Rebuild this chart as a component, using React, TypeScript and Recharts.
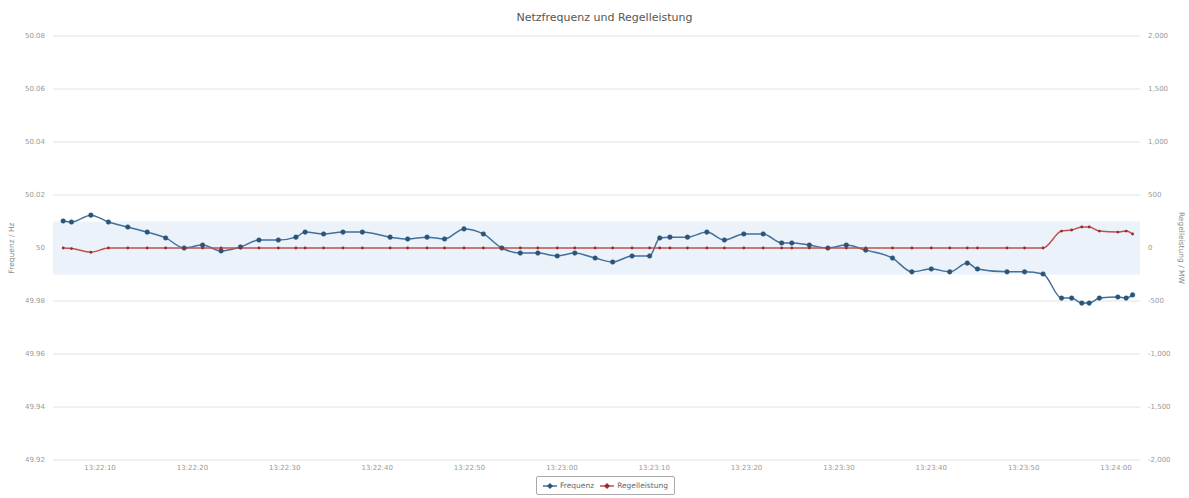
import React from 'react'
import {
  LineChart,
  Line,
  XAxis,
  YAxis,
  CartesianGrid,
  ReferenceArea,
  Legend,
} from 'recharts'

// seconds after 13:22:00
const times = [
  6.0, 6.9, 9.0, 10.9, 13.0, 15.1, 17.1, 19.1, 21.1, 23.1,
  25.2, 27.2, 29.3, 31.2, 32.2, 34.2, 36.3, 38.4, 41.4, 43.3,
  45.4, 47.3, 49.4, 51.5, 53.5, 55.5, 57.4, 59.5, 61.4, 63.6,
  65.5, 67.6, 69.5, 70.6, 71.7, 73.6, 75.7, 77.6, 79.7, 81.8,
  83.8, 84.9, 86.8, 88.8, 90.8, 92.9, 95.8, 97.9, 100.0, 102.0,
  103.9, 105.0, 108.2, 110.1, 112.1, 114.1, 115.2, 116.3, 117.1, 118.2,
  120.2, 121.1, 121.8,
]

const frequenz = [
  50.0102, 50.0098, 50.0124, 50.0098, 50.0079, 50.006, 50.0038, 50.0, 50.0011, 49.9989,
  50.0004, 50.003, 50.003, 50.0041, 50.006, 50.0053, 50.006, 50.006, 50.0041, 50.0034,
  50.0041, 50.0034, 50.0072, 50.0053, 50.0, 49.9981, 49.9981, 49.997, 49.9981, 49.9962,
  49.9947, 49.997, 49.997, 50.0038, 50.0041, 50.0041, 50.006, 50.003, 50.0053, 50.0053,
  50.0019, 50.0019, 50.0011, 50.0, 50.0011, 49.9992, 49.9962, 49.991, 49.9921, 49.991,
  49.9943, 49.9921, 49.991, 49.991, 49.9902, 49.9811, 49.9811, 49.9792, 49.9792, 49.9811,
  49.9815, 49.9811, 49.9823,
]

const regelleistung = [
  0, -5, -40, 0, 0, 0, 0, 0, 0, 0,
  0, 0, 0, 0, 0, 0, 0, 0, 0, 0,
  0, 0, 0, 0, 0, 0, 0, 0, 0, 0,
  0, 0, 0, 0, 0, 0, 0, 0, 0, 0,
  0, 0, 0, 0, 0, 0, 0, 0, 0, 0,
  0, 0, 0, 0, 0, 160, 170, 198, 198, 160,
  150, 160, 132,
]

const xTicks = [10, 20, 30, 40, 50, 60, 70, 80, 90, 100, 110, 120]
const xTickLabels = [
  '13:22:10', '13:22:20', '13:22:30', '13:22:40', '13:22:50', '13:23:00',
  '13:23:10', '13:23:20', '13:23:30', '13:23:40', '13:23:50', '13:24:00',
]

const freqTicks = [49.92, 49.94, 49.96, 49.98, 50, 50.02, 50.04, 50.06, 50.08]
const freqTickLabels = ['49.92', '49.94', '49.96', '49.98', '50', '50.02', '50.04', '50.06', '50.08']

const powerTicks = [-2000, -1500, -1000, -500, 0, 500, 1000, 1500, 2000]
const powerTickLabels = ['-2,000', '-1,500', '-1,000', '-500', '0', '500', '1,000', '1,500', '2,000']

const data = times.map((t, i) => ({ t, f: frequenz[i], r: regelleistung[i] }))

const BLUE = '#42709a'
const BLUE_DOT = '#2a5578'
const RED = '#c0504d'
const RED_DOT = '#9c2b28'
const tickStyle = { fontSize: 7, fill: '#999' }

function axisTitle(text: string, side: 'left' | 'right') {
  return (props: any) => {
    const vb = props.viewBox || {}
    const x = side === 'left' ? 11 : 1181
    const y = vb.y + vb.height / 2
    return (
      <text
        x={x}
        y={y}
        transform={`rotate(${side === 'left' ? -90 : 90} ${x} ${y})`}
        textAnchor="middle"
        dominantBaseline="central"
        fontSize={7.5}
        fill="#888"
      >
        {text}
      </text>
    )
  }
}

function LegendBox() {
  const item = (label: string, color: string, dot: string) => (
    <span style={{ display: 'inline-flex', alignItems: 'center', gap: 3 }}>
      <svg width={14} height={8}>
        <line x1={0} y1={4} x2={14} y2={4} stroke={color} strokeWidth={1.5} />
        <path d="M7 1 L10 4 L7 7 L4 4 Z" fill={dot} />
      </svg>
      {label}
    </span>
  )
  return (
    <div style={{ display: 'flex', justifyContent: 'center', paddingLeft: 22 }}>
      <div
        style={{
          border: '1px solid #aaa',
          borderRadius: 2,
          padding: '3px 6px',
          fontSize: 7.5,
          color: '#666',
          display: 'flex',
          gap: 6,
          lineHeight: '11px',
        }}
      >
        {item('Frequenz', BLUE, BLUE_DOT)}
        {item('Regelleistung', RED, RED_DOT)}
      </div>
    </div>
  )
}

export default function App() {
  return (
    <div
      style={{
        position: 'absolute',
        left: 0,
        top: 0,
        width: 1189,
        height: 498,
        fontFamily: '"DejaVu Sans", sans-serif',
        background: '#fff',
      }}
    >
      <div
        style={{
          position: 'absolute',
          top: 11,
          left: 0,
          width: 1189,
          paddingLeft: 20,
          boxSizing: 'border-box',
          textAlign: 'center',
          fontSize: 11,
          color: '#555',
        }}
      >
        Netzfrequenz und Regelleistung
      </div>
      <LineChart
        width={1189}
        height={498}
        data={data}
        margin={{ top: 36, right: 0, bottom: 0, left: 0 }}
      >
        <ReferenceArea
          yAxisId="f"
          y1={49.99}
          y2={50.01}
          fill="#ebf2fa"
          fillOpacity={1}
          stroke="none"
        />
        <CartesianGrid yAxisId="f" vertical={false} stroke="#e2e2e2" />
        <XAxis
          dataKey="t"
          type="number"
          domain={[4.9, 122.6]}
          ticks={xTicks}
          tickFormatter={(v: number) => xTickLabels[xTicks.indexOf(v)]}
          axisLine={false}
          tickLine={false}
          tickSize={0}
          tickMargin={5}
          height={16}
          tick={tickStyle}
          allowDataOverflow
        />
        <YAxis
          yAxisId="f"
          orientation="left"
          width={53}
          domain={[49.92, 50.08]}
          ticks={freqTicks}
          tickFormatter={(v: number) => freqTickLabels[freqTicks.indexOf(v)]}
          axisLine={false}
          tickLine={false}
          tick={tickStyle}
          allowDataOverflow
          label={{ content: axisTitle('Frequenz / Hz', 'left') }}
        />
        <YAxis
          yAxisId="p"
          orientation="right"
          width={49}
          domain={[-2000, 2000]}
          ticks={powerTicks}
          tickFormatter={(v: number) => powerTickLabels[powerTicks.indexOf(v)]}
          axisLine={false}
          tickLine={false}
          tick={tickStyle}
          allowDataOverflow
          label={{ content: axisTitle('Regelleistung / MW', 'right') }}
        />
        <Line
          yAxisId="f"
          dataKey="f"
          name="Frequenz"
          type="monotone"
          stroke={BLUE}
          strokeWidth={1.5}
          dot={{ r: 2.3, fill: BLUE_DOT, stroke: BLUE_DOT, strokeWidth: 0.5 }}
          isAnimationActive={false}
        />
        <Line
          yAxisId="p"
          dataKey="r"
          name="Regelleistung"
          type="monotone"
          stroke={RED}
          strokeWidth={1.5}
          dot={{ r: 1.4, fill: RED_DOT, stroke: 'none' }}
          isAnimationActive={false}
        />
        <Legend verticalAlign="bottom" height={22} content={() => <LegendBox />} />
      </LineChart>
    </div>
  )
}
